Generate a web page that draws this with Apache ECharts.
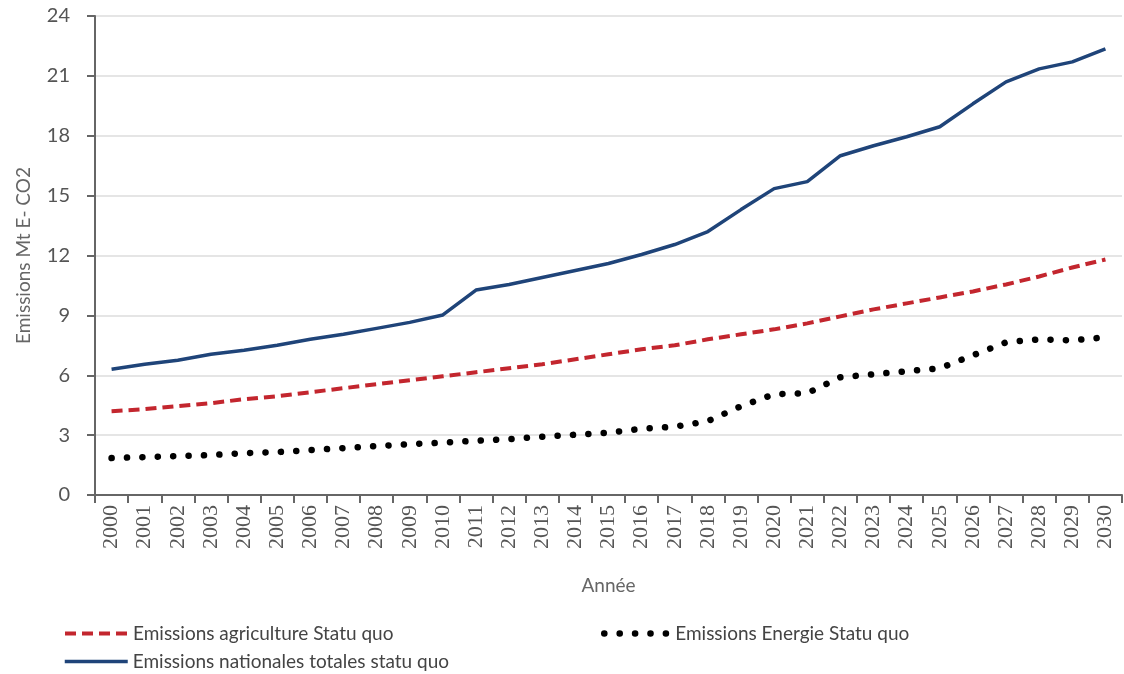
<!DOCTYPE html>
<html>
<head>
<meta charset="utf-8">
<script src="https://cdn.jsdelivr.net/npm/echarts@6/dist/echarts.min.js"></script>
<style>html,body{margin:0;padding:0;background:#fff}#c{width:1124px;height:674px}</style>
</head>
<body>
<div id="c"></div>
<script>
const years = ['2000','2001','2002','2003','2004','2005','2006','2007','2008','2009','2010','2011','2012','2013','2014','2015','2016','2017','2018','2019','2020','2021','2022','2023','2024','2025','2026','2027','2028','2029','2030'];
const agriculture = [4.2,4.3,4.45,4.6,4.8,4.95,5.15,5.35,5.55,5.75,5.95,6.15,6.35,6.55,6.8,7.05,7.3,7.5,7.8,8.05,8.3,8.6,8.95,9.3,9.6,9.9,10.2,10.55,10.95,11.4,11.8];
const energie = [1.85,1.9,1.95,2.0,2.1,2.15,2.25,2.35,2.45,2.55,2.62,2.72,2.8,2.92,3.02,3.12,3.32,3.42,3.7,4.45,5.05,5.1,5.9,6.05,6.2,6.35,7.0,7.65,7.8,7.75,7.9];
const totale = [6.3,6.55,6.75,7.05,7.25,7.5,7.8,8.05,8.35,8.65,9.02,10.27,10.55,10.9,11.25,11.6,12.05,12.55,13.2,14.3,15.35,15.7,17.0,17.5,17.95,18.45,19.6,20.7,21.35,21.7,22.35];
const yTicks = [0,3,6,9,12,15,18,21,24];

const names = {
  agri: 'Emissions agriculture Statu quo',
  ener: 'Emissions Energie Statu quo',
  tot: 'Emissions nationales totales statu quo'
};
const sans = 'Lato, "Open Sans", sans-serif';
const chart = echarts.init(document.getElementById('c'), null, {renderer:'canvas'});
const legendText = {fontFamily: sans, fontSize: 19, color: '#444'};
const legendCommon = {padding: 0, itemHeight: 12, textStyle: legendText, itemStyle: {opacity: 0}};
chart.setOption({
  animation: false,
  backgroundColor: '#fff',
  grid: {left: 95, right: 2, top: 16, bottom: 179, containLabel: false},
  legend: [
    Object.assign({data: [names.agri], left: 63, top: 624, itemWidth: 63, lineStyle: {width: 4}}, legendCommon),
    Object.assign({data: [names.ener], left: 601, top: 624, itemWidth: 66, lineStyle: {width: 6.5}}, legendCommon),
    Object.assign({data: [names.tot], left: 63, top: 652, itemWidth: 63, lineStyle: {width: 3.5}}, legendCommon)
  ],
  xAxis: {
    type: 'category',
    data: years,
    boundaryGap: true,
    name: 'Année',
    nameLocation: 'middle',
    nameGap: 81,
    nameTextStyle: {fontFamily: sans, fontSize: 19, color: '#666'},
    axisLine: {lineStyle: {color: '#666', width: 2}},
    axisTick: {show: true, alignWithLabel: false, length: 8, lineStyle: {color: '#666', width: 2}},
    axisLabel: {rotate: 90, interval: 0, margin: 10, fontFamily: '"Liberation Serif", serif', fontSize: 22, color: '#555'},
    splitLine: {show: false}
  },
  yAxis: {
    type: 'value',
    min: 0, max: 24, interval: 3,
    name: 'Emissions Mt E- CO2',
    nameLocation: 'middle',
    nameGap: 62,
    nameRotate: 90,
    nameTextStyle: {fontFamily: sans, fontSize: 19, color: '#666'},
    axisLine: {show: true, lineStyle: {color: '#666', width: 2}},
    axisTick: {show: true, length: 8, lineStyle: {color: '#666', width: 2}},
    axisLabel: {margin: 25, fontFamily: sans, fontSize: 20, color: '#555',
      formatter: v => yTicks.includes(v) ? String(v) : ''},
    splitLine: {show: true, lineStyle: {color: '#ddd', width: 1.5}}
  },
  series: [
    {name: names.agri, type: 'line', data: agriculture, symbol: 'none', z: 3,
      lineStyle: {color: '#c3262e', width: 4, type: [11, 6]}, itemStyle: {color: '#c3262e'}},
    {name: names.ener, type: 'line', data: energie, symbol: 'none', z: 3,
      lineStyle: {color: '#000', width: 6.5, type: [0.1, 15.3], cap: 'round'}, itemStyle: {color: '#000'}},
    {name: names.tot, type: 'line', data: totale, symbol: 'none', z: 4,
      lineStyle: {color: '#1f4479', width: 3.5}, itemStyle: {color: '#1f4479'}}
  ]
});
</script>
</body>
</html>
